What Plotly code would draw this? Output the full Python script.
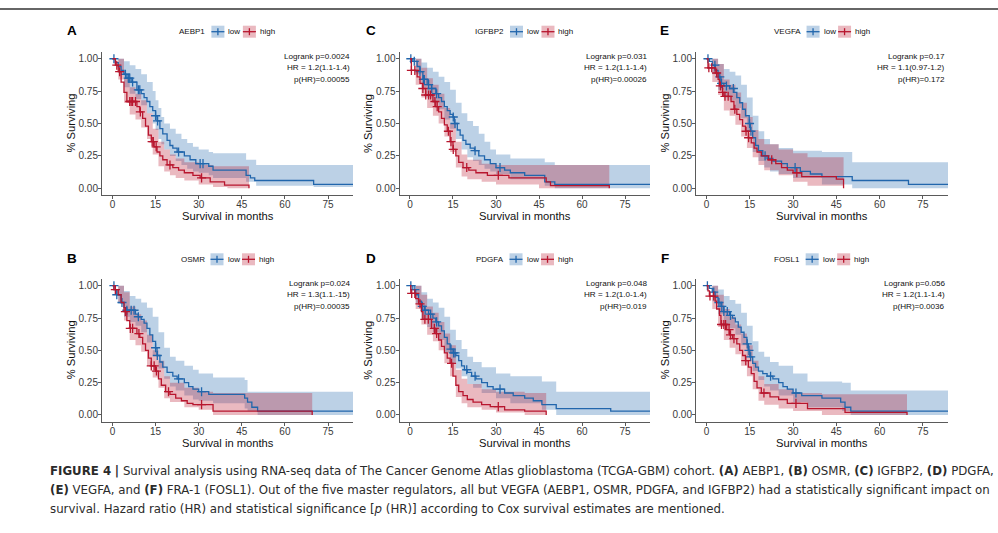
import plotly.graph_objects as go

W, H = 998, 533
BLUE = "#2166AC"
RED = "#B8162E"
BLUE_FILL = "rgba(33,102,172,0.30)"
RED_FILL = "rgba(184,22,46,0.30)"

# ---------------- data ----------------
genes = ["AEBP1", "OSMR", "IGFBP2", "PDGFA", "VEGFA", "FOSL1"]
letters = ["A", "B", "C", "D", "E", "F"]
stat_logrank = ["Logrank p=0.0024", "Logrank p=0.024", "Logrank p=0.031",
                "Logrank p=0.048", "Logrank p=0.17", "Logrank p=0.056"]
stat_hr = ["HR = 1.2(1.1-1.4)", "HR = 1.3(1.1.-15)", "HR = 1.2(1.1-1.4)",
           "HR = 1.2(1.0-1.4)", "HR = 1.1(0.97-1.2)", "HR = 1.2(1.1-1.4)"]
stat_phr = ["p(HR)=0.00055", "p(HR)=0.00035", "p(HR)=0.00026",
            "p(HR)=0.019", "p(HR)=0.172", "p(HR)=0.0036"]
x_ticks = [0, 15, 30, 45, 60, 75]
y_ticks = [0.0, 0.25, 0.5, 0.75, 1.0]
group_labels = ["low", "high"]

# ---- A: AEBP1 ----
A_low_t = [0, 1, 2, 3, 4, 5, 6.5, 8.5, 10, 11, 12, 13, 14, 15, 15.5, 16.5, 17.5, 19, 20, 21, 22.5, 25, 27, 29, 33.5, 35, 46.5, 48, 49.5, 70]
A_low_s = [1.0, 0.97, 0.94, 0.91, 0.88, 0.85, 0.82, 0.76, 0.73, 0.70, 0.67, 0.63, 0.60, 0.56, 0.52, 0.46, 0.42, 0.37, 0.33, 0.31, 0.28, 0.25, 0.22, 0.19, 0.17, 0.14, 0.10, 0.08, 0.06, 0.03]
A_low_end = 85
A_low_cens = [0.5, 4.5, 5.5, 6, 7, 9, 9.5, 15, 15.7, 23, 30.5, 31.5]
A_low_bt = [0, 2, 4, 6, 8, 10, 12, 14, 15, 16, 17, 18, 20, 22, 24, 26, 28, 30, 33.5, 35, 46.5, 50, 70]
A_low_up = [1.0, 1.0, 0.98, 0.95, 0.92, 0.88, 0.82, 0.75, 0.68, 0.62, 0.55, 0.50, 0.46, 0.42, 0.38, 0.35, 0.32, 0.30, 0.28, 0.27, 0.22, 0.18, 0.18]
A_low_lo = [1.0, 0.89, 0.78, 0.73, 0.69, 0.64, 0.58, 0.50, 0.45, 0.38, 0.34, 0.30, 0.25, 0.21, 0.18, 0.15, 0.13, 0.12, 0.10, 0.08, 0.05, 0.02, 0.01]
A_high_t = [0, 1, 2, 3, 4, 5, 8.5, 9.5, 10.5, 11.5, 12.5, 13.5, 14.5, 15.5, 16.5, 17.5, 19, 21, 23, 25, 28, 30.5, 34, 39, 47.5]
A_high_s = [1.0, 0.95, 0.90, 0.82, 0.74, 0.67, 0.63, 0.59, 0.54, 0.48, 0.41, 0.36, 0.32, 0.28, 0.25, 0.22, 0.18, 0.16, 0.14, 0.12, 0.10, 0.08, 0.05, 0.025, 0.0]
A_high_end = 47.5
A_high_cens = [1.5, 2.5, 6, 6.5, 7, 8, 9.7, 13.8, 14.2, 15.2, 20, 31]
A_high_bt = [0, 2, 4, 6, 8, 10, 12, 14, 16, 18, 20, 22, 25, 30, 35, 40, 47.5]
A_high_up = [1.0, 1.0, 0.85, 0.78, 0.73, 0.68, 0.58, 0.46, 0.36, 0.30, 0.26, 0.23, 0.20, 0.18, 0.17, 0.17, 0.17]
A_high_lo = [1.0, 0.84, 0.66, 0.57, 0.53, 0.47, 0.38, 0.26, 0.17, 0.13, 0.10, 0.08, 0.06, 0.03, 0.01, 0.0, 0.0]

# ---- B: OSMR ----
B_low_t = [0, 1, 1.5, 3, 4, 5, 8, 9, 10, 11, 12, 13, 14, 15, 15.5, 16.5, 17.5, 19, 21, 22.5, 25, 26.5, 28, 30, 33.5, 46, 47, 48.5, 50.5]
B_low_s = [1.0, 0.97, 0.93, 0.87, 0.83, 0.81, 0.78, 0.76, 0.74, 0.71, 0.67, 0.62, 0.57, 0.52, 0.46, 0.41, 0.37, 0.33, 0.30, 0.28, 0.25, 0.22, 0.20, 0.18, 0.16, 0.13, 0.10, 0.06, 0.03]
B_low_end = 85
B_low_cens = [0.5, 1.5, 3.3, 5, 6.5, 7.5, 9, 15, 15.6, 23, 31]
B_low_bt = [0, 2, 4, 6, 8, 10, 12, 14, 16, 18, 20, 22, 25, 28, 30, 35, 46, 47, 50.5, 70]
B_low_up = [1.0, 1.0, 0.96, 0.92, 0.90, 0.87, 0.83, 0.76, 0.64, 0.52, 0.45, 0.42, 0.38, 0.35, 0.32, 0.29, 0.27, 0.18, 0.18, 0.18]
B_low_lo = [1.0, 0.86, 0.76, 0.72, 0.69, 0.64, 0.56, 0.46, 0.36, 0.28, 0.22, 0.19, 0.15, 0.12, 0.11, 0.09, 0.05, 0.03, 0.0, 0.0]
B_high_t = [0, 0.5, 2, 3, 4, 5, 6, 8.5, 9.5, 10.5, 11.5, 12.5, 13.5, 15, 16, 17, 18.5, 20, 22, 24, 26, 28, 35, 69.5]
B_high_s = [1.0, 0.97, 0.93, 0.87, 0.80, 0.73, 0.67, 0.63, 0.60, 0.55, 0.50, 0.44, 0.38, 0.34, 0.28, 0.23, 0.18, 0.16, 0.13, 0.11, 0.09, 0.08, 0.03, 0.0]
B_high_end = 69.5
B_high_cens = [1, 4.5, 6.2, 7, 9.2, 13.5, 14.5, 15.3, 19.5, 31]
B_high_bt = [0, 2, 4, 6, 8, 10, 12, 14, 16, 18, 20, 25, 30, 35, 69.5]
B_high_up = [1.0, 1.0, 0.95, 0.84, 0.78, 0.73, 0.62, 0.50, 0.42, 0.30, 0.25, 0.21, 0.18, 0.17, 0.17]
B_high_lo = [1.0, 0.87, 0.73, 0.58, 0.54, 0.49, 0.38, 0.29, 0.21, 0.13, 0.10, 0.06, 0.04, 0.0, 0.0]

# ---- C: IGFBP2 ----
C_low_t = [0, 1, 2.5, 3.5, 4.5, 6, 7.5, 9, 10, 11, 12, 13, 14, 15, 15.5, 16.5, 17.5, 18.5, 19.5, 21, 22.5, 24, 26, 28, 30, 33, 35, 40, 47, 50.5]
C_low_s = [1.0, 0.98, 0.94, 0.90, 0.84, 0.80, 0.77, 0.73, 0.70, 0.67, 0.63, 0.60, 0.57, 0.55, 0.50, 0.45, 0.41, 0.37, 0.34, 0.31, 0.29, 0.25, 0.22, 0.19, 0.16, 0.14, 0.12, 0.10, 0.05, 0.03]
C_low_end = 85
C_low_cens = [0.3, 1.5, 3.5, 4.7, 5, 6.5, 7.6, 9.3, 15.1, 15.7, 22.7, 31.4]
C_low_bt = [0, 2, 4, 6, 8, 10, 12, 14, 16, 18, 20, 22, 24, 26, 28, 30, 35, 47, 50.5, 70]
C_low_up = [1.0, 1.0, 0.97, 0.93, 0.90, 0.86, 0.82, 0.76, 0.66, 0.58, 0.52, 0.48, 0.42, 0.36, 0.30, 0.26, 0.23, 0.20, 0.18, 0.18]
C_low_lo = [1.0, 0.88, 0.78, 0.70, 0.66, 0.61, 0.53, 0.46, 0.38, 0.30, 0.24, 0.21, 0.18, 0.15, 0.13, 0.11, 0.07, 0.02, 0.0, 0.0]
C_high_t = [0, 0.5, 2.5, 3.5, 4.5, 5.5, 8, 9, 10, 11, 12, 13, 14, 15, 16, 17, 18.5, 20.5, 23, 27, 34.5, 47.5, 49, 69.5]
C_high_s = [1.0, 0.91, 0.86, 0.81, 0.77, 0.72, 0.67, 0.63, 0.59, 0.54, 0.49, 0.44, 0.36, 0.30, 0.25, 0.20, 0.16, 0.14, 0.12, 0.10, 0.08, 0.05, 0.02, 0.0]
C_high_end = 69.5
C_high_cens = [0.5, 1.7, 4.5, 5.5, 6.5, 7.2, 8.7, 9.5, 13.4, 14.3, 15.1, 19.8, 30.8]
C_high_bt = [0, 2, 4, 6, 8, 10, 12, 14, 16, 18, 20, 25, 30, 45, 69.5]
C_high_up = [1.0, 1.0, 0.93, 0.85, 0.80, 0.73, 0.62, 0.50, 0.36, 0.26, 0.22, 0.19, 0.18, 0.18, 0.18]
C_high_lo = [1.0, 0.80, 0.70, 0.62, 0.56, 0.50, 0.40, 0.28, 0.16, 0.09, 0.07, 0.05, 0.03, 0.0, 0.0]

# ---- D: PDGFA ----
D_low_t = [0, 1, 2, 3, 4, 5, 6.5, 8, 9, 10, 11, 12, 13, 14, 15, 16, 17, 18, 19, 20, 21.5, 23, 25, 27, 29, 33, 36, 40, 43, 46, 51, 70]
D_low_s = [1.0, 0.97, 0.93, 0.88, 0.84, 0.81, 0.78, 0.75, 0.72, 0.69, 0.65, 0.60, 0.55, 0.51, 0.48, 0.46, 0.42, 0.38, 0.35, 0.33, 0.30, 0.28, 0.25, 0.22, 0.20, 0.17, 0.15, 0.13, 0.11, 0.08, 0.05, 0.03]
D_low_end = 85
D_low_cens = [0.3, 1.7, 4.3, 5.3, 7.2, 9.3, 14.3, 15.2, 15.7, 19.8, 22.7, 31.4]
D_low_bt = [0, 2, 4, 6, 8, 10, 12, 14, 16, 18, 20, 22, 25, 30, 35, 46, 51, 70]
D_low_up = [1.0, 1.0, 0.95, 0.90, 0.87, 0.83, 0.76, 0.66, 0.58, 0.51, 0.45, 0.41, 0.37, 0.32, 0.30, 0.26, 0.18, 0.18]
D_low_lo = [1.0, 0.86, 0.74, 0.68, 0.64, 0.58, 0.48, 0.40, 0.36, 0.30, 0.24, 0.21, 0.17, 0.13, 0.09, 0.04, 0.0, 0.0]
D_high_t = [0, 0.3, 2, 3, 4, 4.5, 7.5, 9, 10, 11, 12, 13, 14, 15, 16, 17, 18.5, 20, 22, 25, 28, 33, 40, 47.5]
D_high_s = [1.0, 0.94, 0.90, 0.86, 0.80, 0.74, 0.67, 0.63, 0.58, 0.53, 0.48, 0.44, 0.40, 0.30, 0.23, 0.18, 0.15, 0.12, 0.10, 0.08, 0.065, 0.04, 0.03, 0.0]
D_high_end = 47.5
D_high_cens = [0.6, 1.7, 3.5, 5.2, 6.4, 8.5, 9.3, 14.5, 30.8]
D_high_bt = [0, 2, 4, 6, 8, 10, 12, 14, 16, 18, 20, 25, 30, 40, 47.5]
D_high_up = [1.0, 1.0, 0.93, 0.84, 0.79, 0.72, 0.63, 0.54, 0.35, 0.28, 0.24, 0.20, 0.18, 0.17, 0.17]
D_high_lo = [1.0, 0.82, 0.70, 0.62, 0.57, 0.50, 0.40, 0.30, 0.14, 0.09, 0.06, 0.04, 0.02, 0.0, 0.0]

# ---- E: VEGFA ----
E_low_t = [0, 1, 2, 3, 4, 5, 6, 8, 9.5, 10.5, 11.5, 12.5, 13.5, 14.8, 15.2, 16, 17, 18, 19.5, 21, 23, 26, 28, 32.5, 36, 40, 50.5, 70]
E_low_s = [1.0, 0.98, 0.95, 0.91, 0.86, 0.81, 0.79, 0.77, 0.74, 0.70, 0.66, 0.61, 0.56, 0.50, 0.44, 0.39, 0.33, 0.29, 0.25, 0.23, 0.21, 0.19, 0.16, 0.13, 0.11, 0.09, 0.06, 0.03]
E_low_end = 85
E_low_cens = [0.5, 2.9, 4.6, 5.2, 6.9, 9.3, 14.9, 15.4, 20.3, 30.7]
E_low_bt = [0, 2, 4, 6, 8, 10, 12, 14, 16, 18, 20, 22, 25, 30, 40, 50.5, 70]
E_low_up = [1.0, 1.0, 0.96, 0.92, 0.90, 0.87, 0.80, 0.70, 0.56, 0.44, 0.38, 0.34, 0.31, 0.29, 0.28, 0.20, 0.20]
E_low_lo = [1.0, 0.88, 0.76, 0.70, 0.68, 0.62, 0.54, 0.44, 0.28, 0.21, 0.16, 0.13, 0.11, 0.08, 0.03, 0.0, 0.0]
E_high_t = [0, 0.5, 3, 4, 4.5, 5.5, 6, 8.5, 9.5, 10.5, 11.5, 12.5, 13.5, 14.5, 15.5, 16.5, 17.5, 19, 21.5, 24, 26, 28, 30, 33, 45, 47.5]
E_high_s = [1.0, 0.93, 0.89, 0.84, 0.79, 0.74, 0.71, 0.67, 0.61, 0.57, 0.53, 0.48, 0.44, 0.39, 0.35, 0.31, 0.28, 0.25, 0.22, 0.19, 0.16, 0.14, 0.12, 0.09, 0.07, 0.0]
E_high_end = 47.5
E_high_cens = [0.8, 1.8, 3.5, 4.8, 5.6, 6.4, 7.5, 9.8, 13.7, 14.6, 22.6, 31.3]
E_high_bt = [0, 2, 4, 6, 8, 10, 12, 14, 16, 18, 20, 25, 30, 35, 47.5]
E_high_up = [1.0, 1.0, 0.96, 0.84, 0.80, 0.74, 0.66, 0.55, 0.45, 0.38, 0.34, 0.30, 0.27, 0.24, 0.24]
E_high_lo = [1.0, 0.82, 0.72, 0.60, 0.56, 0.49, 0.40, 0.31, 0.24, 0.18, 0.14, 0.10, 0.05, 0.02, 0.0]

# ---- F: FOSL1 ----
F_low_t = [0, 1, 2, 3, 4, 5, 6, 8, 9, 10, 11, 12, 13, 14, 14.5, 15, 16, 17, 18, 19.5, 21, 23, 25, 26.5, 28, 30, 33, 40, 46.5, 48, 50]
F_low_s = [1.0, 0.98, 0.95, 0.91, 0.87, 0.84, 0.80, 0.77, 0.75, 0.72, 0.68, 0.64, 0.60, 0.55, 0.50, 0.45, 0.40, 0.37, 0.34, 0.32, 0.30, 0.28, 0.25, 0.22, 0.20, 0.17, 0.15, 0.13, 0.10, 0.06, 0.03]
F_low_end = 85
F_low_cens = [0.3, 2.5, 4.3, 5.3, 6, 7.2, 8.3, 14.1, 14.7, 15.3, 22.2, 31]
F_low_bt = [0, 2, 4, 6, 8, 10, 12, 14, 16, 18, 20, 22, 25, 30, 35, 47, 50, 70]
F_low_up = [1.0, 1.0, 0.97, 0.92, 0.89, 0.86, 0.79, 0.69, 0.57, 0.49, 0.45, 0.41, 0.38, 0.32, 0.26, 0.25, 0.19, 0.19]
F_low_lo = [1.0, 0.88, 0.78, 0.70, 0.67, 0.62, 0.54, 0.45, 0.34, 0.27, 0.22, 0.19, 0.15, 0.10, 0.06, 0.03, 0.0, 0.0]
F_high_t = [0, 0.5, 1, 3, 3.5, 4.5, 5, 7, 8, 9, 10.5, 11.5, 12.5, 13.5, 14.5, 15.5, 16.5, 17.5, 19, 22, 25, 28, 35, 48, 69.5]
F_high_s = [1.0, 0.96, 0.92, 0.88, 0.82, 0.77, 0.70, 0.66, 0.62, 0.59, 0.55, 0.50, 0.46, 0.42, 0.37, 0.32, 0.26, 0.21, 0.17, 0.14, 0.12, 0.09, 0.05, 0.02, 0.0]
F_high_end = 69.5
F_high_cens = [1.2, 2.5, 5.2, 6, 6.6, 7.8, 8.3, 9.5, 13.6, 19.9, 31]
F_high_bt = [0, 2, 4, 6, 8, 10, 12, 14, 16, 18, 20, 25, 30, 40, 69.5]
F_high_up = [1.0, 1.0, 0.93, 0.82, 0.76, 0.70, 0.63, 0.54, 0.42, 0.30, 0.24, 0.20, 0.17, 0.16, 0.16]
F_high_lo = [1.0, 0.82, 0.68, 0.58, 0.52, 0.47, 0.38, 0.30, 0.20, 0.11, 0.08, 0.05, 0.03, 0.0, 0.0]

caption_lines = [
    "<b>FIGURE 4</b> <b>|</b> Survival analysis using RNA-seq data of The Cancer Genome Atlas glioblastoma (TCGA-GBM) cohort. "
    "<b>(A)</b> AEBP1, <b>(B)</b> OSMR, <b>(C)</b> IGFBP2, <b>(D)</b> PDGFA,",
    "<b>(E)</b> VEGFA, and <b>(F)</b> FRA-1 (FOSL1). Out of the five master regulators, all but VEGFA (AEBP1, OSMR, PDGFA, "
    "and IGFBP2) had a statistically significant impact on",
    "survival. Hazard ratio (HR) and statistical significance [<i>p</i> (HR)] according to Cox survival estimates are mentioned.",
]

# ---------------- helpers ----------------
def step_path(t, v, t_end):
    xs, ys = [], []
    for i in range(len(t)):
        x1 = t[i + 1] if i + 1 < len(t) else t_end
        xs += [t[i], x1]
        ys += [v[i], v[i]]
    return xs, ys


def surv_at(t, v, c):
    val = v[0]
    for ti, vi in zip(t, v):
        if ti <= c:
            val = vi
    return val


def px(x):
    return x / W


def py(y):
    return 1 - y / H


ARIAL = {"A": 667, "B": 667, "C": 722, "D": 722, "E": 667, "F": 611, "G": 778, "I": 278,
         "L": 556, "M": 833, "O": 778, "P": 667, "R": 722, "S": 667, "V": 667,
         "1": 556, "2": 556}


def text_w(s, size):
    return sum(ARIAL.get(ch, 556) for ch in s) / 1000 * size


panels = [
    ("A", 0, 0, (A_low_t, A_low_s, A_low_end, A_low_cens, A_low_bt, A_low_up, A_low_lo),
     (A_high_t, A_high_s, A_high_end, A_high_cens, A_high_bt, A_high_up, A_high_lo)),
    ("B", 0, 1, (B_low_t, B_low_s, B_low_end, B_low_cens, B_low_bt, B_low_up, B_low_lo),
     (B_high_t, B_high_s, B_high_end, B_high_cens, B_high_bt, B_high_up, B_high_lo)),
    ("C", 1, 0, (C_low_t, C_low_s, C_low_end, C_low_cens, C_low_bt, C_low_up, C_low_lo),
     (C_high_t, C_high_s, C_high_end, C_high_cens, C_high_bt, C_high_up, C_high_lo)),
    ("D", 1, 1, (D_low_t, D_low_s, D_low_end, D_low_cens, D_low_bt, D_low_up, D_low_lo),
     (D_high_t, D_high_s, D_high_end, D_high_cens, D_high_bt, D_high_up, D_high_lo)),
    ("E", 2, 0, (E_low_t, E_low_s, E_low_end, E_low_cens, E_low_bt, E_low_up, E_low_lo),
     (E_high_t, E_high_s, E_high_end, E_high_cens, E_high_bt, E_high_up, E_high_lo)),
    ("F", 2, 1, (F_low_t, F_low_s, F_low_end, F_low_cens, F_low_bt, F_low_up, F_low_lo),
     (F_high_t, F_high_s, F_high_end, F_high_cens, F_high_bt, F_high_up, F_high_lo)),
]

COLS = [(102, 353), (399.5, 650), (696, 948)]
ROWS = [(51.6, 195.4), (278.6, 422.1)]
LETTER_X = [71.5, 370.5, 664.5]
LETTER_Y = [30.5, 258.5]
LEGEND_Y = [31.7, 259.3]
XR = [-3.65, 83.7]
YR = [-0.055, 1.055]

FONT = "Liberation Sans, Arial, sans-serif"
TICK_COL = "#3a3a3a"
AX_COL = "#5a5a5a"

fig = go.Figure()
layout = {}
annotations = []
shapes = []

for k, (letter, col, row, low, high) in enumerate(panels):
    idx = k + 1
    xa = "x" if idx == 1 else f"x{idx}"
    ya = "y" if idx == 1 else f"y{idx}"
    gi = letters.index(letter)
    x0p, x1p = COLS[col]
    y0p, y1p = ROWS[row]

    # bands
    for grp, fillc in ((low, BLUE_FILL), (high, RED_FILL)):
        t, s, tend, cens, bt, bu, bl = grp
        ux, uy = step_path(bt, bu, tend)
        lx, ly = step_path(bt, bl, tend)
        fig.add_trace(go.Scatter(x=ux + lx[::-1], y=uy + ly[::-1], mode="lines",
                                 fill="toself", fillcolor=fillc, line=dict(width=0),
                                 hoverinfo="skip", showlegend=False, xaxis=xa, yaxis=ya))
    # lines + censors
    for grp, lc in ((low, BLUE), (high, RED)):
        t, s, tend, cens, bt, bu, bl = grp
        sx, sy = step_path(t, s, tend)
        fig.add_trace(go.Scatter(x=sx, y=sy, mode="lines", line=dict(color=lc, width=1.3),
                                 hoverinfo="skip", showlegend=False, xaxis=xa, yaxis=ya))
        fig.add_trace(go.Scatter(x=cens, y=[surv_at(t, s, c) for c in cens], mode="markers",
                                 marker=dict(symbol="cross-thin", size=6.5, line=dict(color=lc, width=1.3)),
                                 hoverinfo="skip", showlegend=False, xaxis=xa, yaxis=ya))

    layout["xaxis" if idx == 1 else f"xaxis{idx}"] = dict(
        domain=[px(x0p), px(x1p)], anchor=ya,
        range=XR, tickvals=x_ticks, ticktext=[str(v) for v in x_ticks],
        showgrid=False, zeroline=False, showline=True, linecolor=AX_COL, linewidth=1,
        ticks="outside", ticklen=3, tickcolor=AX_COL, tickwidth=1, ticklabelstandoff=-3,
        tickfont=dict(family=FONT, size=10, color=TICK_COL), fixedrange=True)
    layout["yaxis" if idx == 1 else f"yaxis{idx}"] = dict(
        domain=[py(y1p), py(y0p)], anchor=xa,
        range=YR, tickvals=y_ticks, ticktext=[f"{v:.2f}" for v in y_ticks],
        showgrid=False, zeroline=False, showline=True, linecolor=AX_COL, linewidth=1,
        ticks="outside", ticklen=3, tickcolor=AX_COL, tickwidth=1, ticklabelstandoff=-2,
        tickfont=dict(family=FONT, size=10, color=TICK_COL), fixedrange=True)

    # axis titles
    annotations.append(dict(text="Survival in months", xref="paper", yref="paper",
                            x=px((x0p + x1p) / 2), y=py(y1p + 21), xanchor="center", yanchor="middle",
                            showarrow=False, font=dict(family=FONT, size=11.2, color="#111")))
    annotations.append(dict(text="% Surviving", xref="paper", yref="paper", textangle=-90,
                            x=px(x0p - 31), y=py((y0p + y1p) / 2), xanchor="center", yanchor="middle",
                            showarrow=False, font=dict(family=FONT, size=11.2, color="#111")))
    # panel letter
    annotations.append(dict(text=f"<b>{letter}</b>", xref="paper", yref="paper",
                            x=px(LETTER_X[col]), y=py(LETTER_Y[row]), xanchor="center", yanchor="middle",
                            showarrow=False, font=dict(family=FONT, size=13.5, color="#000")))
    # stats text
    for txt, dy in zip((stat_logrank[gi], stat_hr[gi], stat_phr[gi]), (4.8, 16.2, 28.2)):
        annotations.append(dict(text=txt, xref="paper", yref="paper",
                                x=px(x1p - 1.5), y=py(y0p + dy), xanchor="right", yanchor="middle",
                                showarrow=False, font=dict(family=FONT, size=8.1, color="#111")))

    # legend
    gene = genes[gi]
    tw = text_w(gene, 8)
    total = tw + 4 + 62
    left = (x0p + x1p) / 2 - total / 2
    k0 = left + tw + 4
    ly = LEGEND_Y[row]
    annotations.append(dict(text=gene, xref="paper", yref="paper", x=px(k0 - 4), y=py(ly),
                            xanchor="right", yanchor="middle", showarrow=False,
                            font=dict(family=FONT, size=8, color="#111")))
    for j, (fillc, lc, lab) in enumerate(((BLUE_FILL, BLUE, group_labels[0]),
                                          (RED_FILL, RED, group_labels[1]))):
        bx = k0 + j * 31.5
        shapes.append(dict(type="rect", xref="paper", yref="paper", x0=px(bx), x1=px(bx + 13),
                           y0=py(ly + 6), y1=py(ly - 6), fillcolor=fillc, line=dict(width=0)))
        shapes.append(dict(type="line", xref="paper", yref="paper", x0=px(bx), x1=px(bx + 13),
                           y0=py(ly), y1=py(ly), line=dict(color=lc, width=1.3)))
        shapes.append(dict(type="line", xref="paper", yref="paper", x0=px(bx + 6.5), x1=px(bx + 6.5),
                           y0=py(ly + 3.5), y1=py(ly - 3.5), line=dict(color=lc, width=1.3)))
        annotations.append(dict(text=lab, xref="paper", yref="paper", x=px(bx + 15), y=py(ly),
                                xanchor="left", yanchor="middle", showarrow=False,
                                font=dict(family=FONT, size=8, color="#111")))

# caption
CAP_FONT = "DejaVu Sans Condensed, Liberation Sans Narrow, sans-serif"
for line, yy in zip(caption_lines, (470, 489.5, 508.5)):
    annotations.append(dict(text=line, xref="paper", yref="paper", x=px(48), y=py(yy),
                            xanchor="left", yanchor="middle", showarrow=False,
                            font=dict(family=CAP_FONT, size=13.1, color="#2b2b2b")))

# top rule
shapes.append(dict(type="line", xref="paper", yref="paper", x0=0, x1=1, y0=py(9), y1=py(9),
                   line=dict(color="#333", width=1.5)))

layout.update(dict(width=W, height=H, margin=dict(l=0, r=0, t=0, b=0),
                   paper_bgcolor="white", plot_bgcolor="white", showlegend=False,
                   annotations=annotations, shapes=shapes))
fig.update_layout(**layout)
fig.write_html("out.html")
